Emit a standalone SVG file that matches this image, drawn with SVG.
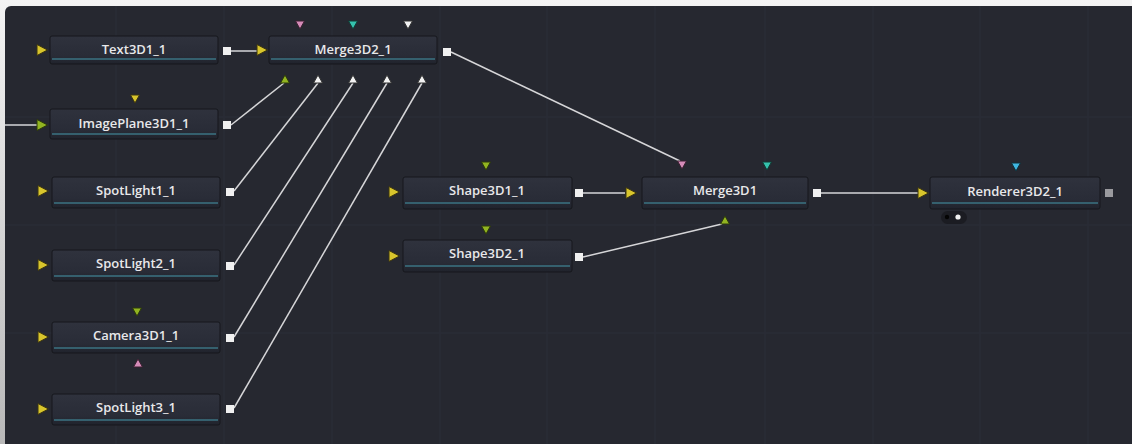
<svg xmlns="http://www.w3.org/2000/svg" width="1132" height="444" viewBox="0 0 1132 444">
<defs>
<linearGradient id="ng" x1="0" y1="0" x2="0" y2="1">
<stop offset="0" stop-color="#2f323d"/>
<stop offset="0.7" stop-color="#292c37"/>
<stop offset="1" stop-color="#20232c"/>
</linearGradient>
<linearGradient id="fr" x1="0" y1="0" x2="0" y2="1">
<stop offset="0" stop-color="#f4f4f4"/>
<stop offset="1" stop-color="#b8b8b8"/>
</linearGradient>
<path id="tr" d="M-5,-5.5 L5.5,0 L-5,5.5 Z"/>
<path id="td" d="M-4.5,-4 L4.5,-4 L0,4 Z"/>
<path id="tu" d="M-4.5,4 L4.5,4 L0,-4 Z"/>
</defs>
<style>
.nb{fill:url(#ng);stroke:#16171c;stroke-width:1}
.ul{stroke:#3b7383;stroke-width:1.5}
.lb{font-family:"Open Sans","DejaVu Sans",sans-serif;font-size:13px;font-weight:600;fill:#e8e8ea;text-anchor:middle;dominant-baseline:central}
.out{fill:#f0f0f0}
.y{fill:#d8c52c;stroke:#3a3410;stroke-width:1}
.g{fill:#92b421;stroke:#2c3a0a;stroke-width:1}
.pk{fill:#d58bb8;stroke:#3a1f30;stroke-width:1}
.tl{fill:#35c2ad;stroke:#103a34;stroke-width:1}
.cy{fill:#3fb6e0;stroke:#10303a;stroke-width:1}
.w{fill:#f2f2f2;stroke:#333;stroke-width:1}
.c{stroke:#d6d6d8;stroke-width:1.5;fill:none}
.grid{stroke:#2a2d36;stroke-width:1.5}
</style>
<rect width="1132" height="444" fill="url(#fr)"/>
<rect x="5" y="6" width="1140" height="450" rx="6" fill="#262830"/>
<g id="grid">
<line class="grid" x1="116" y1="6" x2="116" y2="444"/>
<line class="grid" x1="224" y1="6" x2="224" y2="444"/>
<line class="grid" x1="332" y1="6" x2="332" y2="444"/>
<line class="grid" x1="440" y1="6" x2="440" y2="444"/>
<line class="grid" x1="547" y1="6" x2="547" y2="444"/>
<line class="grid" x1="655" y1="6" x2="655" y2="444"/>
<line class="grid" x1="765" y1="6" x2="765" y2="444"/>
<line class="grid" x1="873" y1="6" x2="873" y2="444"/>
<line class="grid" x1="980" y1="6" x2="980" y2="444"/>
<line class="grid" x1="1088" y1="6" x2="1088" y2="444"/>
<line class="grid" x1="5" y1="117" x2="1132" y2="117"/>
<line class="grid" x1="5" y1="225" x2="1132" y2="225"/>
<line class="grid" x1="5" y1="333" x2="1132" y2="333"/>
</g>
<g id="connectors">
<line class="c" x1="231" y1="51" x2="257" y2="51"/>
<line class="c" x1="5" y1="125" x2="37" y2="125"/>
<line class="c" x1="231" y1="125" x2="284" y2="83"/>
<line class="c" x1="234" y1="191" x2="318" y2="83"/>
<line class="c" x1="234" y1="265" x2="353" y2="83"/>
<line class="c" x1="234" y1="337" x2="387" y2="83"/>
<line class="c" x1="234" y1="408" x2="422" y2="83"/>
<line class="c" x1="451" y1="52" x2="680" y2="161"/>
<line class="c" x1="583" y1="193" x2="625" y2="193"/>
<line class="c" x1="583" y1="257" x2="722" y2="224"/>
<line class="c" x1="821" y1="193" x2="918" y2="193"/>
</g>
<g id="Text3D1_1">
<rect class="nb" x="50" y="36" width="168" height="28" rx="2"/>
<line class="ul" x1="52" y1="59" x2="216" y2="59"/>
<text class="lb" x="134" y="48.5">Text3D1_1</text>
<use href="#tr" class="y" x="42" y="50"/>
<rect class="out" x="223" y="47" width="8" height="8"/>
</g>
<g id="Merge3D2_1">
<rect class="nb" x="269" y="36" width="168" height="28" rx="2"/>
<line class="ul" x1="271" y1="59" x2="435" y2="59"/>
<text class="lb" x="353" y="48.5">Merge3D2_1</text>
<use href="#tr" class="y" x="262" y="50"/>
<use href="#td" class="pk" x="300" y="25"/>
<use href="#td" class="tl" x="353" y="25"/>
<use href="#td" class="w" x="408" y="25"/>
<use href="#tu" class="g" x="285" y="79"/>
<use href="#tu" class="w" x="318" y="79"/>
<use href="#tu" class="w" x="353" y="79"/>
<use href="#tu" class="w" x="387" y="79"/>
<use href="#tu" class="w" x="422" y="79"/>
<rect class="out" x="443" y="48" width="8" height="8"/>
</g>
<g id="ImagePlane3D1_1">
<rect class="nb" x="50" y="109" width="168" height="30" rx="2"/>
<line class="ul" x1="52" y1="134" x2="216" y2="134"/>
<text class="lb" x="134" y="122.5">ImagePlane3D1_1</text>
<use href="#td" class="y" x="135" y="99"/>
<use href="#tr" class="g" x="42" y="125"/>
<rect class="out" x="223" y="121" width="8" height="8"/>
</g>
<g id="SpotLight1_1">
<rect class="nb" x="52" y="177" width="168" height="31" rx="2"/>
<line class="ul" x1="54" y1="203" x2="218" y2="203"/>
<text class="lb" x="136" y="190">SpotLight1_1</text>
<use href="#tr" class="y" x="43" y="191"/>
<rect class="out" x="226" y="188" width="8" height="8"/>
</g>
<g id="SpotLight2_1">
<rect class="nb" x="52" y="250" width="168" height="31" rx="2"/>
<line class="ul" x1="54" y1="276" x2="218" y2="276"/>
<text class="lb" x="136" y="263">SpotLight2_1</text>
<use href="#tr" class="y" x="43" y="265"/>
<rect class="out" x="226" y="262" width="8" height="8"/>
</g>
<g id="Camera3D1_1">
<rect class="nb" x="52" y="322" width="168" height="31" rx="2"/>
<line class="ul" x1="54" y1="348" x2="218" y2="348"/>
<text class="lb" x="136" y="335">Camera3D1_1</text>
<use href="#td" class="g" x="137" y="312"/>
<use href="#tu" class="pk" x="138" y="363"/>
<use href="#tr" class="y" x="43" y="337"/>
<rect class="out" x="226" y="334" width="8" height="8"/>
</g>
<g id="SpotLight3_1">
<rect class="nb" x="52" y="394" width="168" height="31" rx="2"/>
<line class="ul" x1="54" y1="420" x2="218" y2="420"/>
<text class="lb" x="136" y="407">SpotLight3_1</text>
<use href="#tr" class="y" x="43" y="409"/>
<rect class="out" x="226" y="405" width="8" height="8"/>
</g>
<g id="Shape3D1_1">
<rect class="nb" x="403" y="177" width="169" height="32" rx="2"/>
<line class="ul" x1="405" y1="203" x2="570" y2="203"/>
<text class="lb" x="487" y="190">Shape3D1_1</text>
<use href="#td" class="g" x="486" y="166"/>
<use href="#tr" class="y" x="394" y="192"/>
<rect class="out" x="575" y="189" width="8" height="8"/>
</g>
<g id="Shape3D2_1">
<rect class="nb" x="403" y="240" width="169" height="32" rx="2"/>
<line class="ul" x1="405" y1="266" x2="570" y2="266"/>
<text class="lb" x="487" y="253">Shape3D2_1</text>
<use href="#td" class="g" x="486" y="230"/>
<use href="#tr" class="y" x="394" y="256"/>
<rect class="out" x="575" y="253" width="8" height="8"/>
</g>
<g id="Merge3D1">
<rect class="nb" x="642" y="177" width="166" height="32" rx="2"/>
<line class="ul" x1="644" y1="203" x2="806" y2="203"/>
<text class="lb" x="725" y="190">Merge3D1</text>
<use href="#td" class="pk" x="682" y="165"/>
<use href="#td" class="tl" x="767" y="166"/>
<use href="#tu" class="g" x="725" y="220"/>
<use href="#tr" class="y" x="631" y="193"/>
<rect class="out" x="813" y="189" width="8" height="8"/>
</g>
<g id="Renderer3D2_1">
<rect class="nb" x="930" y="177" width="170" height="32" rx="2"/>
<line class="ul" x1="932" y1="203" x2="1098" y2="203"/>
<text class="lb" x="1015" y="191">Renderer3D2_1</text>
<use href="#td" class="cy" x="1016" y="167"/>
<use href="#tr" class="y" x="923" y="193"/>
<rect x="1105" y="189" width="8" height="8" fill="#9a9a9e"/>
<rect x="941" y="211" width="26" height="13" rx="6.5" fill="#1b1c22"/>
<circle cx="947" cy="217" r="2.2" fill="#050505"/>
<circle cx="958" cy="217" r="2.6" fill="#f0f0f0"/>
</g>
</svg>
